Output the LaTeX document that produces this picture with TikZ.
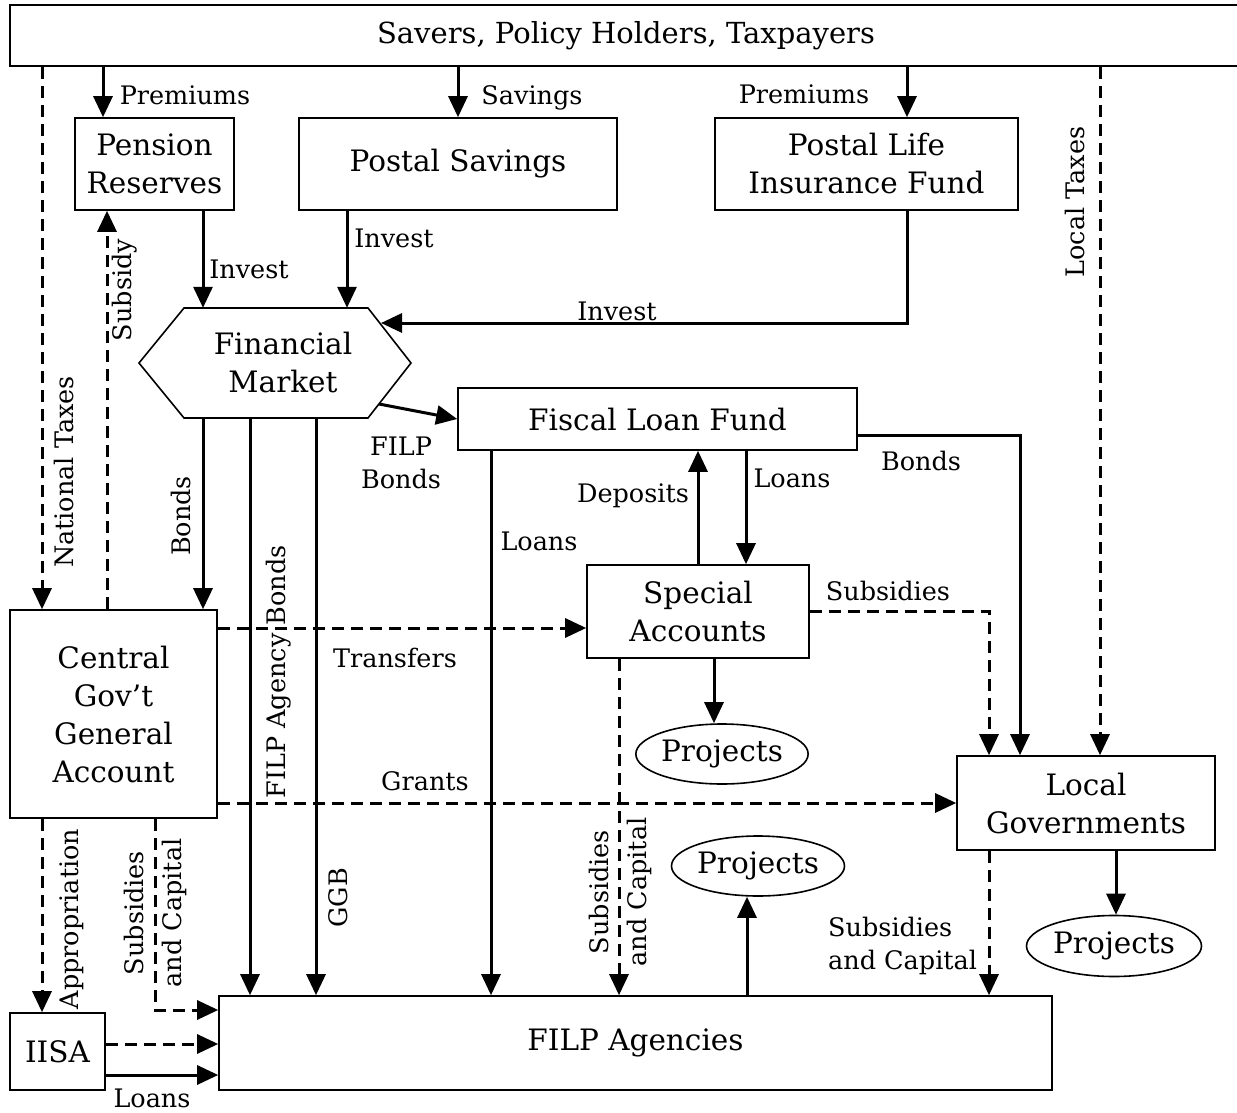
\documentclass[tikz,border=0pt]{standalone}
\usepackage{fontspec}
\setmainfont{DejaVu Serif}
\usetikzlibrary{arrows.meta,shapes.geometric}
\newcommand\nodefnt{\fontsize{29.5}{38}\selectfont}
\newcommand\titlefnt{\fontsize{29}{38}\selectfont}
\newcommand\labfnt{\fontsize{25.5}{33}\selectfont}
\newcommand\rlabfnt{\fontsize{25.5}{38}\selectfont}
\begin{document}
\begin{tikzpicture}[x=1pt,y=-1pt,
  box/.style={draw,line width=1.6pt,inner sep=0pt,align=center,font=\nodefnt},
  oval/.style={ellipse,draw,line width=1.6pt,inner sep=0pt,font=\nodefnt},
  lab/.style={inner sep=0pt,anchor=base,font=\labfnt},
  mlab/.style={inner sep=0pt,font=\labfnt,align=center},
  rlab/.style={inner sep=0pt,rotate=90,font=\rlabfnt,align=center},
  conn/.style={line width=3pt,-{Triangle[length=21pt,width=19pt]}},
  dconn/.style={conn,dash pattern=on 12pt off 7pt},
]
\useasboundingbox (0,0) rectangle (1237,1113);
% nodes
\node[box,line width=2.4pt,font=\titlefnt,minimum width=1232,minimum height=61] (top) at (626,35.5) {Savers, Policy Holders, Taxpayers};
\node[box,minimum width=159,minimum height=92] (pension) at (154.5,164) {Pension\\Reserves};
\node[box,minimum width=318,minimum height=92] (postal) at (458,164) {Postal Savings};
\node[box,minimum width=303,minimum height=92] (life) at (866.5,164) {Postal Life\\Insurance Fund};
\node[minimum width=272,minimum height=110,inner sep=0pt] (fm) at (275,363) {};
\draw[line width=1.6pt] (139,363) -- (184,308) -- (368,308) -- (411,363) -- (368,418) -- (184,418) -- cycle;
\node[font=\nodefnt,align=center,inner sep=0pt] (fmtext) at (283,363) {Financial\\Market};
\node[box,minimum width=399,minimum height=62] (flf) at (657.5,419) {Fiscal Loan Fund};
\node[box,minimum width=222,minimum height=93] (sa) at (698,611.5) {Special\\Accounts};
\node[box,minimum width=207,minimum height=208] (cg) at (113.5,714) {Central\\Gov’t\\General\\Account};
\node[box,minimum width=258,minimum height=94] (lg) at (1086,803) {Local\\Governments};
\node[box,minimum width=833,minimum height=94] (filp) at (635.5,1043) {FILP Agencies};
\node[box,minimum width=95,minimum height=77] (iisa) at (57.5,1051.5) {IISA};
\node[oval,minimum width=172,minimum height=60] (proj1) at (722,754) {Projects};
\node[oval,minimum width=173,minimum height=60] (proj2) at (758,866) {Projects};
\node[oval,minimum width=175,minimum height=61] (proj3) at (1114,946) {Projects};
\coordinate (fmr) at (381,323);
\coordinate (fmb) at (379,404);
% connectors from top
\draw[conn] (103,0 |- top.south) -- (103,0 |- pension.north);
\node[lab] (l1) at (185,105) {Premiums};
\draw[conn] (458,0 |- top.south) -- (postal.north);
\node[lab] (l2) at (532,105) {Savings};
\draw[conn] (907,0 |- top.south) -- (907,0 |- life.north);
\node[lab] (l3) at (804,104) {Premiums};
\draw[dconn] (1100,0 |- top.south) -- (1100,0 |- lg.north);
\node[rlab] (l4) at (1075,202) {Local Taxes};
\draw[dconn] (42,0 |- top.south) -- (42,0 |- cg.north);
\node[rlab] (l5) at (64,472) {National Taxes};
\draw[dconn] (107,0 |- cg.north) -- (107,0 |- pension.south);
\node[rlab] (l6) at (125,290) {Subsidy};
% invest
\draw[conn] (203,0 |- pension.south) -- (203,0 |- fm.north);
\node[lab] (l7) at (249,278) {Invest};
\draw[conn] (347,0 |- postal.south) -- (347,0 |- fm.north);
\node[lab] (l8) at (394,247) {Invest};
\draw[conn] (907,0 |- life.south) |- (fmr);
\node[lab] (l9) at (617,320) {Invest};
\draw[conn] (fmb) -- (flf.west);
\node[mlab] (l10) at (401,463) {FILP\\Bonds};
% from financial market
\draw[conn] (203,0 |- fm.south) -- (203,0 |- cg.north);
\node[rlab] (l11) at (181,516) {Bonds};
\draw[conn] (250,0 |- fm.south) -- (250,0 |- filp.north);
\node[rlab] (l12) at (279,672) {FILP Agency Bonds};
\draw[conn] (316,0 |- fm.south) -- (316,0 |- filp.north);
\node[rlab] (l13) at (338,898) {GGB};
% from fiscal loan fund
\draw[conn] (491,0 |- flf.south) -- (491,0 |- filp.north);
\node[lab] (l14) at (539,550) {Loans};
\draw[conn] (698,0 |- sa.north) -- (698,0 |- flf.south);
\node[lab] (l15) at (633,502) {Deposits};
\draw[conn] (746,0 |- flf.south) -- (746,0 |- sa.north);
\node[lab] (l16) at (792,487) {Loans};
\draw[conn] (flf.east |- 0,435) -| (1020,0 |- lg.north);
\node[lab] (l17) at (921,470) {Bonds};
% central gov
\draw[dconn] (cg.east |- 0,628) -- (sa.west |- 0,628);
\node[lab] (l18) at (395,667) {Transfers};
\draw[dconn] (cg.east |- 0,803) -- (lg.west |- 0,803);
\node[lab] (l19) at (425,790) {Grants};
\draw[dconn] (42,0 |- cg.south) -- (42,0 |- iisa.north);
\node[rlab] (l20) at (72,919) {Appropriation};
\draw[dconn] (155,0 |- cg.south) |- (filp.west |- 0,1010);
\node[rlab] (l21) at (155,913) {Subsidies\\and Capital};
% special accounts
\draw[dconn] (sa.east |- 0,611) -| (989,0 |- lg.north);
\node[lab] (l22) at (888,600) {Subsidies};
\draw[conn] (714,0 |- sa.south) -- (714,0 |- proj1.north);
\draw[dconn] (619,0 |- sa.south) -- (619,0 |- filp.north);
\node[rlab] (l23) at (620,892) {Subsidies\\and Capital};
% local governments
\draw[conn] (1116,0 |- lg.south) -- (1116,0 |- proj3.north);
\draw[dconn] (989,0 |- lg.south) -- (989,0 |- filp.north);
\node[mlab,align=left,anchor=west] (l24) at (828,946) {Subsidies\\and Capital};
% filp agencies
\draw[conn] (747,0 |- filp.north) -- (747,0 |- proj2.south);
% IISA
\draw[dconn] (iisa.east |- 0,1044) -- (filp.west |- 0,1044);
\draw[conn] (iisa.east |- 0,1075) -- (filp.west |- 0,1075);
\node[lab] (l25) at (152,1107) {Loans};
\end{tikzpicture}
\end{document}
